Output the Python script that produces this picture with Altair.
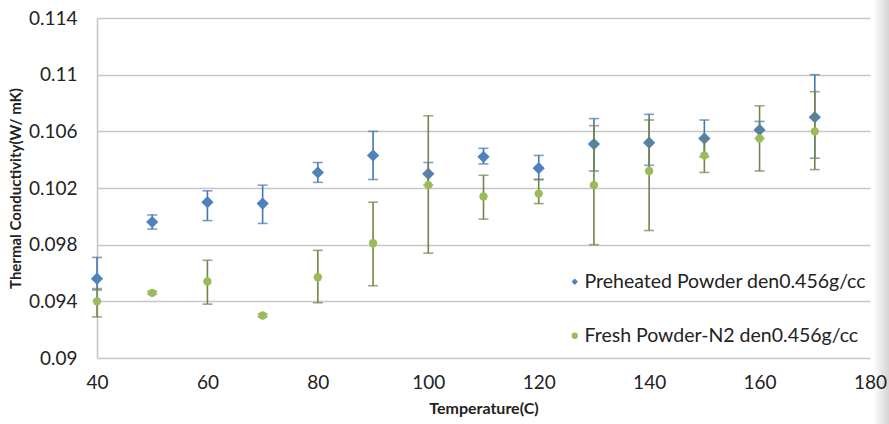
import altair as alt
import pandas as pd

# Temperature steps (C)
temps = [40, 50, 60, 70, 80, 90, 100, 110, 120, 130, 140, 150, 160, 170]

# Preheated powder: mean conductivity and error-bar limits (W/mK)
pre_mean = [0.0956, 0.0996, 0.1010, 0.1009, 0.1031, 0.1043, 0.1030, 0.1042, 0.1034, 0.1051, 0.1052, 0.1055, 0.1061, 0.1070]
pre_lo = [0.0948, 0.0991, 0.0997, 0.0995, 0.1024, 0.1026, 0.1022, 0.1037, 0.1026, 0.1032, 0.1036, 0.1042, 0.1055, 0.1041]
pre_hi = [0.0971, 0.1001, 0.1018, 0.1022, 0.1038, 0.1060, 0.1038, 0.1048, 0.1043, 0.1069, 0.1072, 0.1068, 0.1067, 0.1100]

# Fresh powder under N2
fresh_mean = [0.0940, 0.0946, 0.0954, 0.0930, 0.0957, 0.0981, 0.1022, 0.1014, 0.1016, 0.1022, 0.1032, 0.1043, 0.1055, 0.1060]
fresh_lo = [0.0929, 0.0945, 0.0938, 0.0929, 0.0939, 0.0951, 0.0974, 0.0998, 0.1009, 0.0980, 0.0990, 0.1031, 0.1032, 0.1033]
fresh_hi = [0.0949, 0.0947, 0.0969, 0.0931, 0.0976, 0.1010, 0.1071, 0.1029, 0.1026, 0.1064, 0.1068, 0.1055, 0.1078, 0.1088]

series_names = ["Preheated Powder den0.456g/cc", "Fresh Powder-N2 den0.456g/cc"]
marker_colors = ["#4f81bd", "#9bbb59"]
bar_colors = ["#4476b4", "#75824a"]
shapes = ["diamond", "circle"]
sizes = [150, 70]

y_ticks = [0.09, 0.094, 0.098, 0.102, 0.106, 0.11, 0.114]
x_ticks = [40, 60, 80, 100, 120, 140, 160, 180]

rows = []
for name, m, lo, hi in [
    (series_names[0], pre_mean, pre_lo, pre_hi),
    (series_names[1], fresh_mean, fresh_lo, fresh_hi),
]:
    for t, a, b, c in zip(temps, m, lo, hi):
        rows.append({"series": name, "temp": t, "k": a, "lo": b, "hi": c})
df = pd.DataFrame(rows)

FONT = "Lato"

x_scale = alt.Scale(domain=[40, 180], nice=False, zero=False)
y_scale = alt.Scale(domain=[0.09, 0.114], nice=False, zero=False)

x_enc = alt.X(
    "temp:Q",
    scale=x_scale,
    axis=alt.Axis(values=x_ticks, title="Temperature(C)", grid=False, domain=False, zindex=1),
)


def y_of(field):
    return alt.Y(
        f"{field}:Q",
        scale=y_scale,
        axis=alt.Axis(values=y_ticks, format="~g", title="Thermal Conductivity(W/ mK)"),
    )


base = alt.Chart(df)
layers = []
for i, name in enumerate(series_names):
    sub = base.transform_filter(alt.datum.series == name)
    layers.append(
        sub.mark_rule(strokeWidth=1.6, color=bar_colors[i]).encode(
            x=x_enc, y=y_of("lo"), y2="hi:Q"
        )
    )
    for end in ["lo", "hi"]:
        layers.append(
            sub.mark_tick(orient="horizontal", size=10, thickness=1.6, color=bar_colors[i]).encode(
                x=x_enc, y=y_of(end)
            )
        )
    layers.append(
        sub.mark_point(filled=True, opacity=1, size=sizes[i], shape=shapes[i]).encode(
            x=x_enc,
            y=y_of("k"),
            color=alt.Color(
                "series:N",
                scale=alt.Scale(domain=series_names, range=marker_colors),
                legend=alt.Legend(
                    title=None,
                    orient="none",
                    legendX=468,
                    legendY=254,
                    labelFontSize=19.5,
                    labelFont=FONT,
                    labelColor="#222222",
                    labelLimit=0,
                    symbolSize=40,
                    rowPadding=33,
                    labelOffset=0,
                ),
            ),
            shape=alt.Shape(
                "series:N",
                scale=alt.Scale(domain=series_names, range=shapes),
                legend=None,
            ),
        )
    )

# soft grey shading along the right page edge
edge = alt.Chart(pd.DataFrame({"a": [0]})).mark_rect(
    color=alt.Gradient(
        gradient="linear",
        stops=[
            alt.GradientStop(color="#ffffff", offset=0),
            alt.GradientStop(color="#d4d4d4", offset=1),
        ],
        x1=0, x2=1, y1=0, y2=0,
    )
).encode(
    x=alt.value(776), x2=alt.value(792), y=alt.value(-18), y2=alt.value(406)
)

chart = (
    alt.layer(edge, *layers)
    .properties(
        width=773,
        height=340,
        autosize=alt.AutoSizeParams(type="none"),
        padding={"left": 97, "top": 18, "right": 19, "bottom": 66},
        background="white",
    )
    .configure_view(stroke=None)
    .configure_axis(
        labelFont=FONT,
        labelFontSize=19,
        labelColor="#222222",
        labelFlush=False,
        titleFont=FONT,
        titleFontWeight="bold",
        titleColor="#222222",
        ticks=False,
        gridColor="#c6c6c6",
        gridWidth=1.6,
        domainColor="#c6c6c6",
        domainWidth=1.6,
    )
    .configure_axisX(labelPadding=15, titlePadding=8, titleFontSize=16)
    .configure_axisY(labelPadding=20, titlePadding=5, titleFontSize=15)
)

chart.save("out.html", embed_options={"renderer": "svg", "actions": False})
